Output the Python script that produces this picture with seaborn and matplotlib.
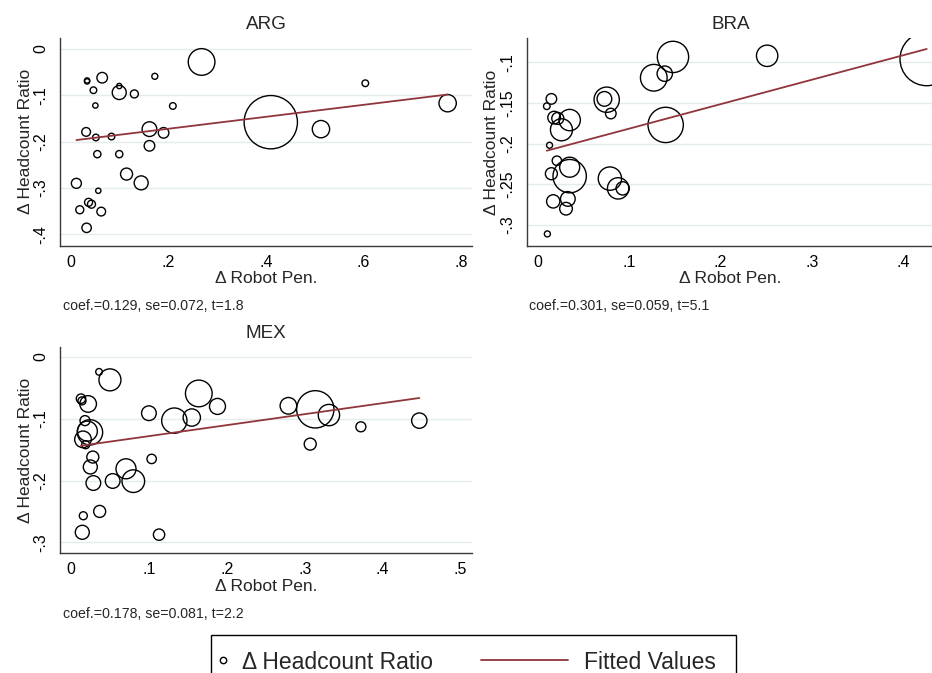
import matplotlib
matplotlib.use("Agg")
import matplotlib.pyplot as plt
from matplotlib.lines import Line2D
from matplotlib.patches import Rectangle
import numpy as np
import pandas as pd
import seaborn as sns

# ---------------- data ----------------
arg_x = [0.268, 0.410, 0.513, 0.773, 0.604, 0.064, 0.033, 0.033, 0.046, 0.099,
         0.099, 0.130, 0.172, 0.209, 0.050, 0.031, 0.051, 0.083, 0.161, 0.190,
         0.161, 0.054, 0.099, 0.114, 0.144, 0.011, 0.056, 0.036, 0.042, 0.018,
         0.062, 0.032]
arg_y = [-0.028, -0.158, -0.173, -0.117, -0.074, -0.062, -0.068, -0.070, -0.089, -0.094,
         -0.080, -0.097, -0.059, -0.123, -0.122, -0.179, -0.191, -0.189, -0.173, -0.181,
         -0.209, -0.227, -0.227, -0.270, -0.289, -0.290, -0.306, -0.331, -0.335, -0.347,
         -0.351, -0.386]
arg_w = [178, 711, 75, 75, 11, 28, 7, 7, 11, 49,
         7, 16, 9, 11, 7, 19, 11, 11, 54, 28,
         28, 13, 13, 36, 49, 25, 7, 16, 16, 16,
         19, 22]

bra_x = [0.4255, 0.148, 0.251, 0.127, 0.139, 0.0755, 0.073, 0.080, 0.140, 0.015,
         0.010, 0.018, 0.022, 0.035, 0.026, 0.013, 0.021, 0.035, 0.035, 0.015,
         0.079, 0.088, 0.093, 0.017, 0.033, 0.031, 0.0106]
bra_y = [-0.096, -0.0934, -0.092, -0.119, -0.114, -0.146, -0.145, -0.163, -0.177, -0.145,
         -0.154, -0.168, -0.169, -0.171, -0.183, -0.202, -0.221, -0.229, -0.240, -0.237,
         -0.243, -0.255, -0.255, -0.271, -0.268, -0.280, -0.311]
bra_w = [711, 245, 114, 178, 59, 160, 54, 28, 312, 28,
         11, 40, 36, 114, 121, 9, 22, 100, 278, 36,
         136, 114, 44, 44, 54, 40, 9]

mex_x = [0.036, 0.050, 0.164, 0.188, 0.279, 0.3135, 0.331, 0.372, 0.447, 0.307,
         0.100, 0.1326, 0.155, 0.1035, 0.0706, 0.080, 0.0535, 0.0287, 0.0248, 0.028,
         0.0128, 0.0141, 0.022, 0.018, 0.0244, 0.021, 0.0154, 0.0188, 0.0368, 0.0158,
         0.0145, 0.113]
mex_y = [-0.024, -0.037, -0.059, -0.080, -0.079, -0.0847, -0.094, -0.113, -0.103, -0.141,
         -0.091, -0.103, -0.098, -0.165, -0.181, -0.201, -0.2007, -0.204, -0.178, -0.162,
         -0.0674, -0.071, -0.076, -0.103, -0.122, -0.120, -0.1333, -0.142, -0.250, -0.257,
         -0.2838, -0.2876]
mex_w = [11, 121, 178, 64, 69, 348, 114, 25, 59, 36,
         54, 160, 75, 22, 100, 128, 54, 54, 49, 36,
         22, 16, 69, 25, 160, 100, 69, 16, 36, 16,
         49, 32]

countries = ["ARG", "BRA", "MEX"]
fit_intercept = [-0.198, -0.2117, -0.1459]
fit_slope = [0.129, 0.301, 0.178]
stats_text = ["coef.=0.129, se=0.072, t=1.8",
              "coef.=0.301, se=0.059, t=5.1",
              "coef.=0.178, se=0.081, t=2.2"]

arg_xticks = [0, 0.2, 0.4, 0.6, 0.8]
arg_xlabels = ["0", ".2", ".4", ".6", ".8"]
arg_yticks = [0, -0.1, -0.2, -0.3, -0.4]
arg_ylabels = ["0", "-.1", "-.2", "-.3", "-.4"]
bra_xticks = [0, 0.1, 0.2, 0.3, 0.4]
bra_xlabels = ["0", ".1", ".2", ".3", ".4"]
bra_yticks = [-0.1, -0.15, -0.2, -0.25, -0.3]
bra_ylabels = ["-.1", "-.15", "-.2", "-.25", "-.3"]
mex_xticks = [0, 0.1, 0.2, 0.3, 0.4, 0.5]
mex_xlabels = ["0", ".1", ".2", ".3", ".4", ".5"]
mex_yticks = [0, -0.1, -0.2, -0.3]
mex_ylabels = ["0", "-.1", "-.2", "-.3"]

x_label = "Δ Robot Pen."
y_label = "Δ Headcount Ratio"
legend_labels = ["Δ Headcount Ratio", "Fitted Values"]

# ---------------- style ----------------
sns.set_style("white")
plt.rcParams["font.family"] = ["Liberation Sans", "DejaVu Sans"]

W, H = 932, 673
fig = plt.figure(figsize=(W / 100, H / 100), dpi=100)


def rect(l, t, r, b):
    return [l / W, 1 - b / H, (r - l) / W, (b - t) / H]


LINE_C = "#90353B"
GRID_C = "#E4ECEC"
AX_C = "#3a3a3a"
PX2PT2 = (2 / (100 / 72)) ** 2  # radius(px)^2 -> marker area (pt^2)

panels = [
    dict(x=arg_x, y=arg_y, w=arg_w, rect=rect(60, 38, 472, 245.7),
         xlim=(-0.0226, 0.823), ylim=(-0.4246, 0.0237),
         xt=arg_xticks, xl=arg_xlabels, yt=arg_yticks, yl=arg_ylabels),
    dict(x=bra_x, y=bra_y, w=bra_w, rect=rect(526.7, 38.3, 934, 245.7),
         xlim=(-0.012, 0.4335), ylim=(-0.3255, -0.0705),
         xt=bra_xticks, xl=bra_xlabels, yt=bra_yticks, yl=bra_ylabels),
    dict(x=mex_x, y=mex_y, w=mex_w, rect=rect(60, 346.7, 472, 553.3),
         xlim=(-0.0141, 0.5146), ylim=(-0.3178, 0.0167),
         xt=mex_xticks, xl=mex_xlabels, yt=mex_yticks, yl=mex_ylabels),
]

for i, p in enumerate(panels):
    ax = fig.add_axes(p["rect"])
    df = pd.DataFrame({"x": p["x"], "y": p["y"], "w": p["w"]})
    wmax = df["w"].max()
    for yt in p["yt"]:
        ax.axhline(yt, color=GRID_C, lw=1.0, zorder=0)
    sns.scatterplot(data=df, x="x", y="y", size="w",
                    sizes=(0, PX2PT2 * wmax), size_norm=(0, wmax),
                    facecolors="none", edgecolor="black", linewidth=1.0,
                    legend=False, ax=ax, zorder=3)
    xs = np.array([df["x"].min(), df["x"].max()])
    fit = pd.DataFrame({"x": xs, "y": fit_intercept[i] + fit_slope[i] * xs})
    sns.lineplot(data=fit, x="x", y="y", color=LINE_C, lw=1.3, ax=ax, zorder=4)

    ax.set_xlim(*p["xlim"])
    ax.set_ylim(*p["ylim"])
    ax.set_xticks(p["xt"], p["xl"])
    ax.set_yticks(p["yt"], p["yl"], rotation=90, va="center")
    ax.tick_params(axis="both", direction="out", length=5.8, width=1.0,
                   color=AX_C, labelsize=11.5, labelcolor="black")
    ax.tick_params(axis="x", pad=0.8)
    ax.tick_params(axis="y", pad=2.4)
    for s in ["top", "right"]:
        ax.spines[s].set_visible(False)
    for s in ["left", "bottom"]:
        ax.spines[s].set_color(AX_C)
        ax.spines[s].set_linewidth(1.0)
    ax.set_xlabel(x_label, fontsize=12.5, labelpad=0.8)
    ax.set_ylabel(y_label, fontsize=12.5, labelpad=0.6)
    ax.set_title(countries[i], fontsize=13.6, pad=6.5)
    ax.annotate(stats_text[i], xy=(0, 0), xycoords="axes fraction",
                xytext=(2, -46.4), textcoords="offset points",
                fontsize=10.2, ha="left", va="baseline")
    ax.set_facecolor("white")

# ---------------- legend (drawn in figure pixels) ----------------
def fpt(x, y):
    return (x / W, 1 - y / H)

box = Rectangle(fpt(211, 690), (736 - 211) / W, (690 - 635.3) / H,
                transform=fig.transFigure, fill=False, edgecolor="black",
                lw=1.0, clip_on=False)
fig.add_artist(box)
mx, my = fpt(223, 660)
fig.add_artist(Line2D([mx], [my], marker="o", markersize=4.6, markerfacecolor="none",
                      markeredgecolor="black", markeredgewidth=1.0, linestyle="none",
                      transform=fig.transFigure))
fig.text(*fpt(241.7, 660), legend_labels[0], fontsize=16.5, ha="left", va="center_baseline")
l0 = fpt(480.7, 660)
l1 = fpt(568, 660)
fig.add_artist(Line2D([l0[0], l1[0]], [l0[1], l1[1]], color=LINE_C, lw=1.3,
                      transform=fig.transFigure))
fig.text(*fpt(584, 660), legend_labels[1], fontsize=16.5, ha="left", va="center_baseline")

fig.savefig("out.png", dpi=100, facecolor="white")
